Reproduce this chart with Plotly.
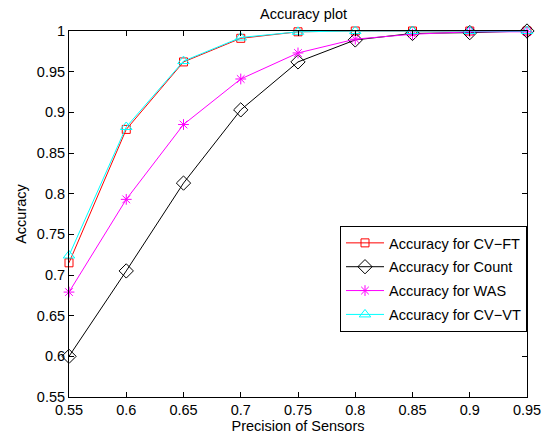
import plotly.graph_objects as go

precision = [0.55, 0.6, 0.65, 0.7, 0.75, 0.8, 0.85, 0.9, 0.95]
acc_cvft = [0.715, 0.879, 0.962, 0.991, 0.999, 1.0, 1.0, 1.0, 1.0]
acc_count = [0.600, 0.705, 0.813, 0.903, 0.962, 0.989, 0.997, 0.998, 1.0]
acc_was = [0.679, 0.793, 0.885, 0.941, 0.973, 0.990, 0.996, 0.999, 0.999]
acc_cvvt = [0.724, 0.882, 0.963, 0.992, 0.999, 1.0, 1.0, 1.0, 1.0]

x_ticks = [0.55, 0.6, 0.65, 0.7, 0.75, 0.8, 0.85, 0.9, 0.95]
x_ticktext = ["0.55", "0.6", "0.65", "0.7", "0.75", "0.8", "0.85", "0.9", "0.95"]
y_ticks = [0.55, 0.6, 0.65, 0.7, 0.75, 0.8, 0.85, 0.9, 0.95, 1.0]
y_ticktext = ["0.55", "0.6", "0.65", "0.7", "0.75", "0.8", "0.85", "0.9", "0.95", "1"]

series = [
    ("Accuracy for CV\u2212FT", acc_cvft, "#ff0000", "square-open", 8),
    ("Accuracy for Count", acc_count, "#000000", "diamond-open", 11),
    ("Accuracy for WAS", acc_was, "#ff00ff", "asterisk-open", 9),
    ("Accuracy for CV\u2212VT", acc_cvvt, "#00ffff", "triangle-up-open", 10),
]

fig = go.Figure()
for i, (name, vals, color, sym, size) in enumerate(series):
    fig.add_trace(go.Scatter(
        x=precision, y=vals, name=name, mode="lines+markers", legendgroup=f"g{i}",
        line=dict(color=color, width=1),
        marker=dict(symbol=sym, size=size, color=color, line=dict(color=color, width=1)),
        cliponaxis=False,
    ))

font = "Liberation Sans, Arial, Helvetica, sans-serif"
fs = 14.5
axis_common = dict(
    showgrid=False, zeroline=False, showline=True, linecolor="black", linewidth=1,
    mirror="ticks", ticks="inside", ticklen=5, tickcolor="black",
    tickfont=dict(family=font, size=fs, color="black"),
)
fig.update_layout(
    width=553, height=441,
    margin=dict(l=69, r=15, t=31, b=42),
    paper_bgcolor="white", plot_bgcolor="white",
    font=dict(family=font, size=fs, color="black"),
    title=dict(text="Accuracy plot", x=(69 + 538) / 2 / 553, xanchor="center", y=1 - 14 / 441,
               yanchor="middle", font=dict(family=font, size=fs, color="black")),
    xaxis=dict(range=[0.55, 0.95], tickvals=x_ticks, ticktext=x_ticktext,
               title=dict(text="Precision of Sensors", standoff=0, font=dict(size=fs)), **axis_common),
    yaxis=dict(range=[0.55, 1.0], tickvals=y_ticks, ticktext=y_ticktext,
               title=dict(text="Accuracy", standoff=6, font=dict(size=fs)), **axis_common),
    legend=dict(x=1, xanchor="right", y=1 - 196 / 368, yanchor="top",
                bordercolor="black", borderwidth=1, bgcolor="white",
                font=dict(family=font, size=fs, color="black"), tracegroupgap=2,
                traceorder="grouped", itemwidth=38),
    showlegend=True,
)
fig.write_html("out.html", config={"displayModeBar": False},
               post_script="document.body.style.margin='0';document.body.style.padding='0';")
